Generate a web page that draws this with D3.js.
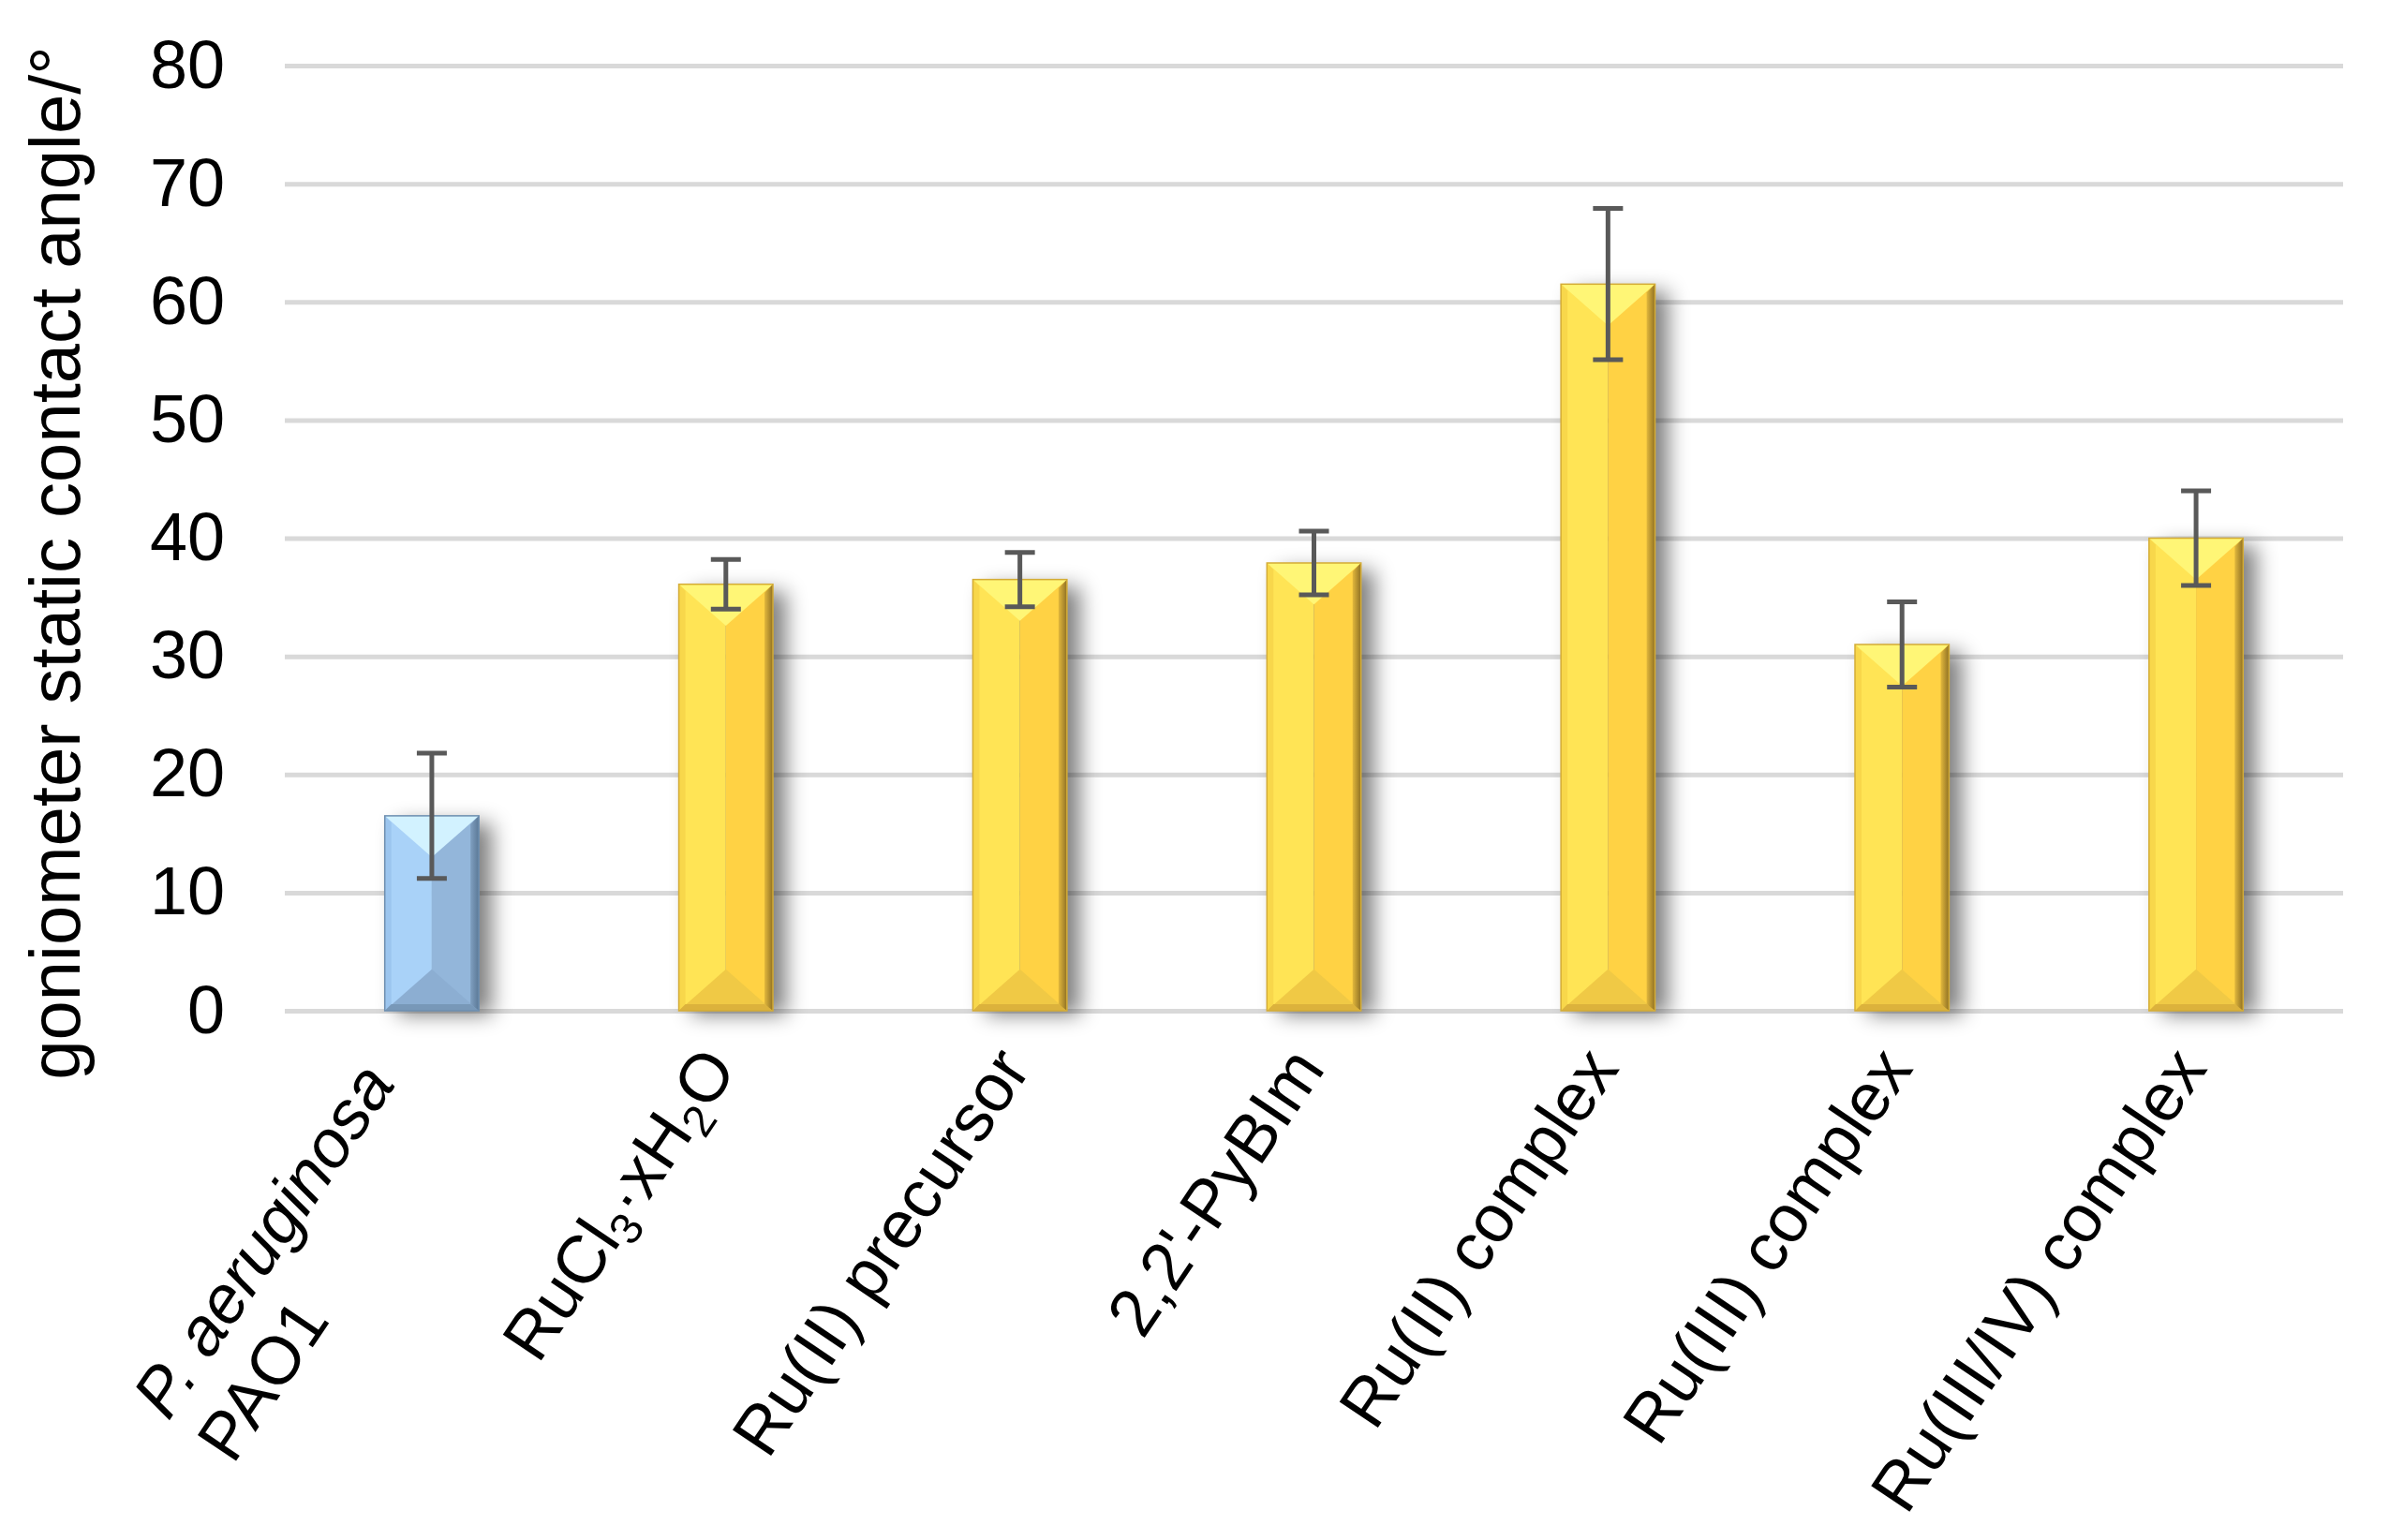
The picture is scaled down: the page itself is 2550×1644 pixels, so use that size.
<!DOCTYPE html>
<html><head><meta charset="utf-8">
<script src="https://cdn.jsdelivr.net/npm/d3@7"></script>
<style>html,body{margin:0;padding:0;background:#fff}svg{display:block}</style>
</head><body>
<svg id="chart" width="2550" height="1644"></svg>
<script>
// ---- data ----
const categories = ["P. aeruginosa PAO1", "RuCl3·xH2O", "Ru(II) precursor", "2,2'-PyBIm", "Ru(II) complex", "Ru(III) complex", "Ru(III/IV) complex"];
const values = [16.5, 36.1, 36.5, 37.9, 61.5, 31.0, 40.0];
const errors = [5.3, 2.1, 2.3, 2.7, 6.4, 3.6, 4.0];
const groups = ["control", "Ru", "Ru", "Ru", "Ru", "Ru", "Ru"];
const yTicks = [0, 10, 20, 30, 40, 50, 60, 70, 80];
const yTitle = "goniometer static contact angle/°";

// ---- layout / style ----
const FONT = "'Liberation Sans', Arial, sans-serif";
const plot = {left: 304, right: 2501, top: 70, bottom: 1079};
const palettes = {
  control: {left:"#a9d2f8", right:"#93b6da", top:"#d2f2ff", bottom:"#8caed2", lstrip:"#9cc5ee", rs1:"#7f9fc0", rs2:"#5b7896", bstrip:"#7898b8", stroke:"#6e8fb0"},
  Ru:      {left:"#ffe455", right:"#ffd244", top:"#fff676", bottom:"#f0c945", lstrip:"#f8d74b", rs1:"#e2b83c", rs2:"#8f7024", bstrip:"#dcb23c", stroke:"#d4ac36"}
};

const svg = d3.select("#chart");
const defs = svg.append("defs");
defs.append("filter").attr("id","shadow").attr("x","-60%").attr("y","-20%").attr("width","220%").attr("height","140%")
  .append("feGaussianBlur").attr("stdDeviation", 11);
Object.entries(palettes).forEach(([k,p]) => {
  const g = defs.append("linearGradient").attr("id","rs-"+k).attr("x1","0").attr("x2","1").attr("y1","0").attr("y2","0");
  g.append("stop").attr("offset","0").attr("stop-color",p.rs1);
  g.append("stop").attr("offset","1").attr("stop-color",p.rs2);
});

const x = d3.scaleBand().domain(categories).range([plot.left, plot.right]).paddingInner(0.68).paddingOuter(0.34);
const y = d3.scaleLinear().domain([0, 80]).range([plot.bottom, plot.top]);

// gridlines + tick labels
const yAxis = d3.axisLeft(y).tickValues(yTicks).tickSizeInner(-(plot.right - plot.left)).tickSizeOuter(0).tickPadding(64);
const ga = svg.append("g").attr("transform", `translate(${plot.left},0)`).call(yAxis);
ga.select(".domain").remove();
ga.selectAll(".tick line").attr("stroke", "#d9d9d9").attr("stroke-width", 5);
ga.selectAll(".tick text").attr("font-family", FONT).attr("font-size", 72).attr("fill", "#000");

// y title
svg.append("text").attr("transform", "translate(85,601) rotate(-90)")
  .attr("text-anchor","middle").attr("font-family", FONT).attr("font-size", 76).attr("fill","#000").text(yTitle);

// bars
const data = categories.map((c,i) => ({c, v: values[i], e: errors[i], g: groups[i]}));
const w = x.bandwidth();

// shadows
svg.append("g").selectAll("rect").data(data).join("rect")
  .attr("x", d => x(d.c) + 14).attr("y", d => y(d.v) + 8)
  .attr("width", w).attr("height", d => y(0) - y(d.v) - 4)
  .attr("fill", "#000").attr("opacity", 0.5).attr("filter", "url(#shadow)");

const bars = svg.append("g").selectAll("g").data(data).join("g");
bars.each(function(d) {
  const g = d3.select(this), p = palettes[d.g];
  const x0 = x(d.c), x1 = x0 + w, xc = (x0 + x1) / 2, y0 = y(d.v), y1 = y(0);
  const b = Math.min(w * 0.44, (y1 - y0) / 2), s = 7, s2 = 9;
  const poly = pts => g.append("polygon").attr("points", pts.map(q => q.join(",")).join(" "));
  g.append("rect").attr("x", x0).attr("y", y0).attr("width", w/2).attr("height", y1 - y0).attr("fill", p.left);
  g.append("rect").attr("x", xc).attr("y", y0).attr("width", w/2).attr("height", y1 - y0).attr("fill", p.right);
  poly([[x0,y0],[x1,y0],[xc,y0+b]]).attr("fill", p.top);
  poly([[x0,y1],[x1,y1],[xc,y1-b]]).attr("fill", p.bottom);
  poly([[x0,y0],[x0+s,y0+s],[x0+s,y1-s],[x0,y1]]).attr("fill", p.lstrip);
  poly([[x0,y1],[x0+s,y1-s],[x1-s2,y1-s],[x1,y1]]).attr("fill", p.bstrip);
  poly([[x1,y0],[x1-s2,y0+s2],[x1-s2,y1-s],[x1,y1]]).attr("fill", `url(#rs-${d.g})`);
  g.append("rect").attr("x", x0).attr("y", y0).attr("width", w).attr("height", y1 - y0)
    .attr("fill","none").attr("stroke", p.stroke).attr("stroke-width", 1.5);
});

// error bars
const eb = svg.append("g").attr("stroke", "#595959").attr("stroke-width", 5);
data.forEach(d => {
  const cx = x(d.c) + w/2;
  eb.append("line").attr("x1", cx).attr("x2", cx).attr("y1", y(d.v - d.e)).attr("y2", y(d.v + d.e));
  [d.v - d.e, d.v + d.e].forEach(v => eb.append("line").attr("x1", cx - 16).attr("x2", cx + 16).attr("y1", y(v)).attr("y2", y(v)));
});

// x labels
const ANG = -56, LH = 83;
const lab = svg.append("g").attr("font-family", FONT).attr("font-size", 72).attr("fill", "#000");
categories.forEach(c => {
  const ax = x(c) + w/2 + 13, ay = plot.bottom + 62;
  const g = lab.append("g").attr("transform", `translate(${ax},${ay}) rotate(${ANG})`);
  if (c === "P. aeruginosa PAO1") {
    const t1 = g.append("text").attr("text-anchor","end").attr("x", -42).attr("y", -33).attr("font-style","italic").text("P. aeruginosa");
    const L = t1.node().getComputedTextLength();
    g.append("text").attr("text-anchor","start").attr("x", -42 - L).attr("y", -33 + LH).text("PAO1");
  } else if (c === "RuCl3·xH2O") {
    const t = g.append("text").attr("text-anchor","end");
    t.append("tspan").text("RuCl");
    t.append("tspan").attr("font-size", 48).attr("dy", 13).text("3");
    t.append("tspan").attr("dy", -13).text("·xH");
    t.append("tspan").attr("font-size", 48).attr("dy", 13).text("2");
    t.append("tspan").attr("dy", -13).text("O");
  } else {
    g.append("text").attr("text-anchor","end").text(c);
  }
});
</script>
</body></html>
